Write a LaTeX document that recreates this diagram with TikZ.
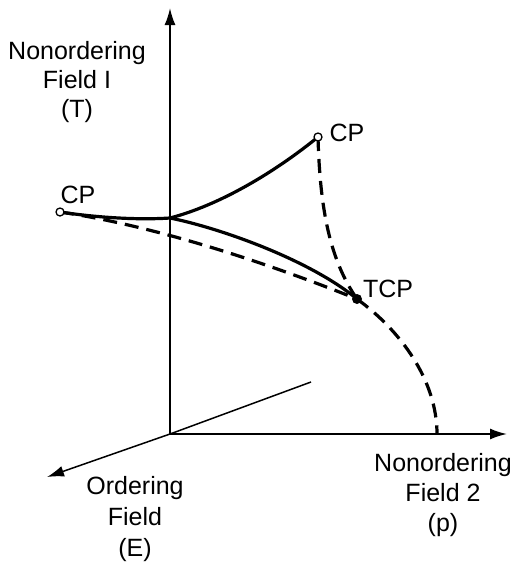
\documentclass[tikz,border=0pt]{standalone}
\usepackage{fontspec}
\setmainfont{Liberation Sans}
\usetikzlibrary{arrows.meta}
\begin{document}
\begin{tikzpicture}[x=1pt,y=-1pt,
  axis/.style={line width=1.8pt,-{Latex[length=17pt,width=11pt]}},
  thinaxis/.style={line width=1.5pt},
  curve/.style={line width=3.2pt},
  dcurve/.style={line width=3.2pt,dash pattern=on 14pt off 8pt},
  lab/.style={font=\fontsize{25}{30}\selectfont,inner sep=0pt,align=center},
  opendot/.style={circle,draw,fill=white,line width=1.3pt,inner sep=0pt,minimum size=8pt},
  fulldot/.style={circle,fill=black,inner sep=0pt,minimum size=10pt}]
\useasboundingbox (0,0) rectangle (519,563);
% axes
\coordinate (O) at (170,434);
\coordinate (ytip) at (170,8);
\coordinate (xtip) at (507,434);
\coordinate (zback) at (311,382);
\coordinate (ztip) at (47,477);
\draw[axis] (O) -- (ytip);
\draw[axis] (O) -- (xtip);
\draw[thinaxis] (zback) -- (O);
\draw[axis,line width=1.5pt] (O) -- (ztip);
% points
\coordinate (J) at (170,218);
\coordinate (end) at (437,434);
% curves
\draw[dcurve] (60,212) .. controls (150,225) and (260,260) .. (357,299);
\draw[dcurve] (318,137) .. controls (320,210) and (330,260) .. (357,299);
\draw[dcurve] (357,299) .. controls (400,330) and (437,380) .. (end);
\draw[curve] (60,212) .. controls (100,218) and (140,220) .. (J);
\draw[curve] (J) .. controls (220,205) and (275,172) .. (318,137);
\draw[curve] (J) .. controls (220,228) and (310,260) .. (357,299);
\node[opendot] (cpL) at (60,212) {};
\node[opendot] (cpR) at (318,137) {};
\node[fulldot] (tcp) at (357,299) {};
% labels
\node[lab,font=\fontsize{25}{29}\selectfont,anchor=base] (lT) at (77,117) {Nonordering\\Field I\\(T)};
\node[lab,anchor=base] (lcpL) at (78,203) {CP};
\node[lab,anchor=base] (lcpR) at (347,141) {CP};
\node[lab,anchor=base] (ltcp) at (388,297) {TCP};
\node[lab,anchor=base] (lp) at (443,531) {Nonordering\\Field 2\\(p)};
\node[lab,font=\fontsize{25}{31}\selectfont,anchor=base] (lE) at (135,556) {Ordering\\Field\\(E)};
\end{tikzpicture}
\end{document}
